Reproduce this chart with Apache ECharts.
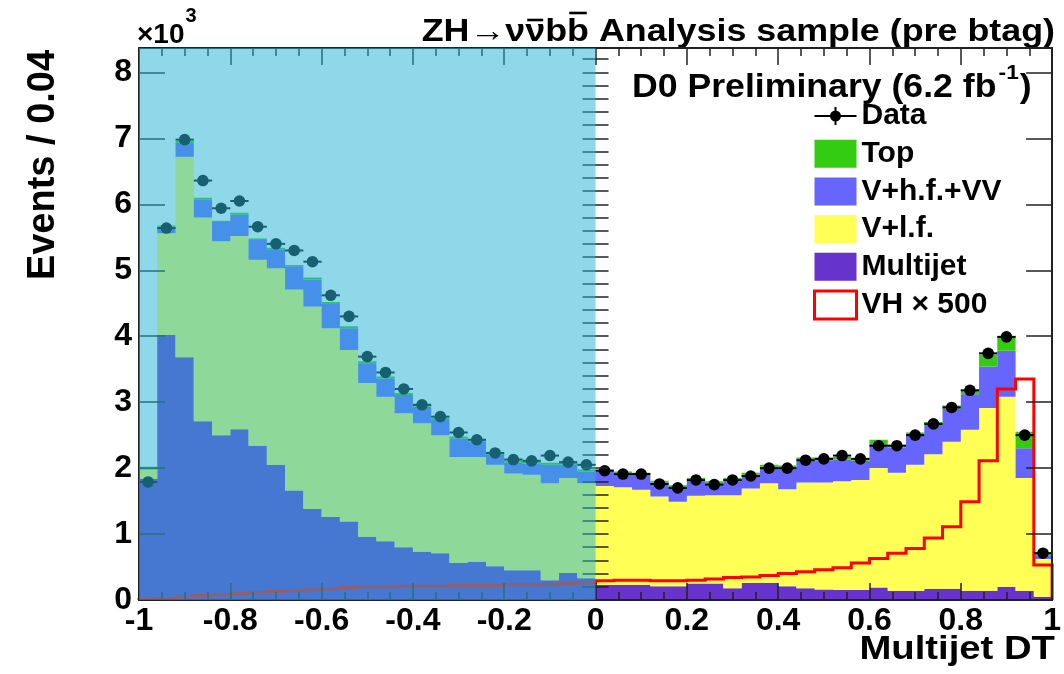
<!DOCTYPE html>
<html>
<head>
<meta charset="utf-8">
<script src="https://cdn.jsdelivr.net/npm/echarts@6/dist/echarts.min.js"></script>
<style>
html,body{margin:0;padding:0;background:#ffffff;}
#chart{width:1064px;height:674px;}
</style>
</head>
<body>
<div id="chart"></div>
<script>
// ---- binning ----
const binLow = -1;
const binWidth = 0.04;
const nBins = 50;
const yMax = 8.37;
const shadedRange = [-1, 0];

// ---- x tick labels and y tick labels ----
const xTickLabels = ['-1','-0.8','-0.6','-0.4','-0.2','0','0.2','0.4','0.6','0.8','1'];
const yTickLabels = ['0','1','2','3','4','5','6','7','8'];

// ---- values (x 10^3 events per bin) ----
const dataValues = [1.79,5.64,6.98,6.36,5.94,6.05,5.66,5.40,5.30,5.13,4.62,4.30,3.69,3.45,3.20,2.96,2.78,2.54,2.43,2.23,2.13,2.11,2.19,2.09,2.05,
                    1.96,1.91,1.91,1.76,1.70,1.82,1.75,1.82,1.88,2.00,2.00,2.12,2.14,2.19,2.14,2.34,2.34,2.50,2.67,2.92,3.18,3.74,3.99,2.50,0.71];
const multijet = [1.84,4.02,3.68,2.71,2.50,2.59,2.34,2.05,1.66,1.38,1.26,1.19,0.96,0.89,0.80,0.73,0.71,0.56,0.58,0.51,0.45,0.45,0.30,0.41,0.33,
                  0.23,0.23,0.23,0.21,0.21,0.25,0.25,0.18,0.26,0.26,0.21,0.18,0.16,0.15,0.15,0.19,0.14,0.14,0.17,0.17,0.14,0.14,0.20,0.14,0.05];
const vlf = [0.14,1.54,3.04,3.09,2.94,2.93,2.82,2.98,3.05,3.07,2.86,2.60,2.33,2.19,2.03,1.95,1.79,1.61,1.59,1.54,1.47,1.45,1.47,1.44,1.44,
             1.50,1.48,1.44,1.36,1.28,1.33,1.34,1.41,1.43,1.51,1.47,1.60,1.62,1.65,1.67,1.81,1.79,1.91,2.04,2.23,2.44,2.77,2.88,1.71,0.57];
const vhf = [0.03,0.10,0.21,0.27,0.29,0.32,0.30,0.29,0.35,0.41,0.37,0.33,0.30,0.28,0.28,0.25,0.23,0.28,0.23,0.15,0.16,0.17,0.28,0.20,0.18,
             0.22,0.21,0.23,0.21,0.22,0.24,0.18,0.23,0.21,0.25,0.32,0.34,0.34,0.33,0.29,0.36,0.38,0.45,0.45,0.50,0.54,0.63,0.70,0.45,0.06];
const topQuark = [0.01,0.02,0.03,0.03,0.02,0.03,0.02,0.02,0.02,0.03,0.03,0.03,0.03,0.03,0.03,0.03,0.03,0.03,0.03,0.03,0.03,0.03,0.03,0.03,0.03,
                  0.03,0.03,0.03,0.03,0.03,0.03,0.03,0.03,0.03,0.03,0.04,0.04,0.04,0.04,0.04,0.07,0.04,0.04,0.04,0.05,0.06,0.18,0.22,0.25,0.04];
const vh500 = [0.01,0.02,0.05,0.07,0.08,0.10,0.11,0.13,0.14,0.15,0.17,0.19,0.20,0.20,0.21,0.21,0.21,0.22,0.22,0.22,0.23,0.23,0.24,0.25,0.26,
               0.29,0.30,0.30,0.29,0.29,0.30,0.32,0.34,0.35,0.37,0.40,0.43,0.46,0.49,0.56,0.63,0.71,0.78,0.94,1.11,1.49,2.11,3.20,3.35,0.53];

// ---- styles ----
const FONT = '"Liberation Sans", Arial, Helvetica, sans-serif';
const colTop = '#33cc11', colVhf = '#6666ff', colVlf = '#ffff55', colMj = '#6633cc', colVH = '#ff0000';
const overlayColor = 'rgba(42,181,214,0.53)';
const axisCol = '#222';

// ---- derived ----
const edges = Array.from({length: nBins + 1}, (_, i) => binLow + i * binWidth);
const centers = Array.from({length: nBins}, (_, i) => binLow + (i + 0.5) * binWidth);
const stackList = [multijet, vlf, vhf, topQuark];
const bands = [];
let base = new Array(nBins).fill(0);
stackList.forEach(arr => {
  const lo = base.slice();
  const hi = lo.map((b, i) => b + arr[i]);
  bands.push([lo, hi]);
  base = hi;
});

function bandSeries(name, color, idx, vals) {
  const lo = bands[idx][0], hi = bands[idx][1];
  return {
    type: 'custom', name: name, z: 2, silent: true, animation: false,
    itemStyle: {color: color},
    data: vals.map((v, i) => [centers[i], v]),
    renderItem: function (params, api) {
      if (params.dataIndex !== 0) return null;
      const pts = [];
      for (let i = 0; i < nBins; i++) {
        pts.push(api.coord([edges[i], hi[i]]));
        pts.push(api.coord([edges[i + 1], hi[i]]));
      }
      for (let i = nBins - 1; i >= 0; i--) {
        pts.push(api.coord([edges[i + 1], lo[i]]));
        pts.push(api.coord([edges[i], lo[i]]));
      }
      return {type: 'polygon', shape: {points: pts}, style: {fill: color}};
    }
  };
}

// text measuring for the annotation layout
const mctx = document.createElement('canvas').getContext('2d');
function tw(t, size) { mctx.font = 'bold ' + size + 'px ' + FONT; return mctx.measureText(t).width; }
function txt(t, x, y, size, align) {
  return {type: 'text', x: x, y: y, silent: true,
    style: {text: t, font: 'bold ' + size + 'px ' + FONT, fill: '#000',
      align: align || 'left', textAlign: align || 'left', verticalAlign: 'middle', textVerticalAlign: 'middle'}};
}

// title group: ZH->nu nubar b bbar Analysis sample (pre btag)
const TS = 32, TSX = 1.12;
const titlePieces = [
  {t: 'ZH\u2192\u03BD', bar: 0},
  {t: '\u03BD', bar: 1},
  {t: 'b', bar: 0},
  {t: 'b', bar: 2},
  {t: ' Analysis sample (pre btag)', bar: 0}
];
const titleChildren = [];
let cx = 0;
titlePieces.forEach(p => {
  const w = tw(p.t, TS);
  titleChildren.push(txt(p.t, cx, 0, TS, 'left'));
  if (p.bar) {
    const yb = p.bar === 1 ? -12.5 : -19.5;
    titleChildren.push({type: 'rect', silent: true, shape: {x: cx + w * 0.1, y: yb - 1.3, width: w * 0.8, height: 2.6}, style: {fill: '#000'}});
  }
  cx += w;
});
const titleW = cx;

// x10^3
const expChildren = [txt('\u00D710', 0, 0, 28, 'left'), txt('3', tw('\u00D710', 28) + 1, -19, 20, 'left')];

// D0 Preliminary
const d0a = 'D0 Preliminary (6.2 fb';
const d0w = tw(d0a, 33);
const supW = tw('-1', 21);
const d0Children = [
  txt(d0a, 0, 0, 33, 'left'),
  txt('-1', d0w + 2, -14.5, 21, 'left'),
  txt(')', d0w + supW + 3, 0, 33, 'left')
];

const chart = echarts.init(document.getElementById('chart'), null, {renderer: 'canvas'});

const xAxisBase = {
  type: 'value', min: binLow, max: 1, interval: 0.2, z: 5,
  axisLine: {show: true, onZero: false, lineStyle: {color: axisCol, width: 2}},
  axisTick: {show: true, inside: true, length: 17, lineStyle: {color: axisCol, width: 1.5}},
  minorTick: {show: true, splitNumber: 4, length: 8, lineStyle: {color: axisCol, width: 1.5}},
  splitLine: {show: false}
};
const yAxisMajor = {
  type: 'value', min: 0, max: yMax, interval: 1, z: 5,
  axisLine: {show: true, onZero: false, lineStyle: {color: axisCol, width: 2}},
  axisTick: {show: true, inside: true, length: 26, lineStyle: {color: axisCol, width: 1.5}},
  splitLine: {show: false}
};
const yAxisMinor = {
  type: 'value', min: 0, max: yMax, interval: 0.2, z: 5,
  axisLine: {show: false},
  axisTick: {show: true, inside: true, length: 13, lineStyle: {color: axisCol, width: 1.5}},
  axisLabel: {show: false},
  splitLine: {show: false}
};

const option = {
  animation: false,
  backgroundColor: '#ffffff',
  grid: {left: 139, right: 6, top: 48, bottom: 74, containLabel: false},
  xAxis: [
    Object.assign({}, xAxisBase, {
      position: 'bottom',
      axisLabel: {
        show: true, margin: 5, fontSize: 32, fontWeight: 'bold', fontFamily: FONT, color: '#000',
        showMinLabel: true, showMaxLabel: true,
        formatter: function (v) {
          const k = Math.round((v - binLow) / 0.2);
          return xTickLabels[k] !== undefined ? xTickLabels[k] : '';
        }
      }
    }),
    Object.assign({}, xAxisBase, {position: 'top', axisLabel: {show: false}})
  ],
  yAxis: [
    Object.assign({}, yAxisMajor, {
      position: 'left',
      axisLabel: {
        show: true, margin: 7, fontSize: 32, fontWeight: 'bold', fontFamily: FONT, color: '#000',
        formatter: function (v) {
          const k = Math.round(v);
          return Math.abs(v - k) < 1e-6 && yTickLabels[k] !== undefined ? yTickLabels[k] : '';
        }
      }
    }),
    Object.assign({}, yAxisMinor, {position: 'left'}),
    Object.assign({}, yAxisMajor, {position: 'right', axisLabel: {show: false}}),
    Object.assign({}, yAxisMinor, {position: 'right'})
  ],
  legend: {
    orient: 'vertical', left: 813, top: 101, padding: 0,
    itemWidth: 42, itemHeight: 28, itemGap: 7.7,
    selectedMode: false,
    textStyle: {fontSize: 30, fontWeight: 'bold', fontFamily: FONT, color: '#000'},
    data: [
      {name: 'Data', icon: 'path://M0,13 L42,13 L42,15 L0,15 Z M20,5 L22,5 L22,23 L20,23 Z M26.5,14 A5.5,5.5 0 1 1 15.5,14 A5.5,5.5 0 1 1 26.5,14 Z', itemStyle: {color: '#000'}},
      {name: 'Top', icon: 'rect', itemStyle: {color: colTop}},
      {name: 'V+h.f.+VV', icon: 'rect', itemStyle: {color: colVhf}},
      {name: 'V+l.f.', icon: 'rect', itemStyle: {color: colVlf}},
      {name: 'Multijet', icon: 'rect', itemStyle: {color: colMj}},
      {name: 'VH \u00D7 500', icon: 'rect', itemStyle: {color: '#ffffff', borderColor: colVH, borderWidth: 3}}
    ]
  },
  graphic: [
    {type: 'group', x: 1055 - titleW * TSX, y: 32.5, scaleX: TSX, children: titleChildren},
    {type: 'group', x: 137, y: 35, children: expChildren},
    {type: 'group', x: 632, y: 87.5, scaleX: 1.08, children: d0Children},
    {type: 'group', x: 1055, y: 650, scaleX: 1.16, children: [txt('Multijet DT', 0, 0, 33, 'right')]},
    {type: 'text', x: 44, y: 165, rotation: Math.PI / 2, silent: true,
      style: {text: 'Events / 0.04', font: 'bold 38px ' + FONT, fill: '#000',
        align: 'center', textAlign: 'center', verticalAlign: 'middle', textVerticalAlign: 'middle'}}
  ],
  series: [
    bandSeries('Multijet', colMj, 0, multijet),
    bandSeries('V+l.f.', colVlf, 1, vlf),
    bandSeries('V+h.f.+VV', colVhf, 2, vhf),
    bandSeries('Top', colTop, 3, topQuark),
    {
      type: 'custom', name: 'VH \u00D7 500', z: 3, silent: true,
      itemStyle: {color: colVH},
      data: vh500.map((v, i) => [centers[i], v]),
      renderItem: function (params, api) {
        if (params.dataIndex !== 0) return null;
        const pts = [api.coord([edges[0], 0])];
        for (let i = 0; i < nBins; i++) {
          pts.push(api.coord([edges[i], vh500[i]]));
          pts.push(api.coord([edges[i + 1], vh500[i]]));
        }
        pts.push(api.coord([edges[nBins], 0]));
        return {type: 'polyline', shape: {points: pts}, style: {stroke: colVH, lineWidth: 3, fill: 'none'}};
      }
    },
    {
      type: 'custom', name: 'Data', z: 4, silent: true,
      itemStyle: {color: '#000'},
      data: dataValues.map((v, i) => [centers[i], v]),
      renderItem: function (params, api) {
        const x = api.value(0), y = api.value(1);
        const p = api.coord([x, y]);
        const a = api.coord([x - binWidth / 2, y]);
        const b = api.coord([x + binWidth / 2, y]);
        return {type: 'group', children: [
          {type: 'line', shape: {x1: a[0], y1: a[1], x2: b[0], y2: b[1]}, style: {stroke: '#000', lineWidth: 2}},
          {type: 'circle', shape: {cx: p[0], cy: p[1], r: 5.8}, style: {fill: '#000'}}
        ]};
      }
    },
    {
      type: 'custom', name: 'shade', z: 10, silent: true,
      data: [[shadedRange[0], 0]],
      renderItem: function (params, api) {
        const p0 = api.coord([shadedRange[0], yMax]);
        const p1 = api.coord([shadedRange[1], 0]);
        return {type: 'rect', shape: {x: p0[0], y: p0[1], width: p1[0] - p0[0], height: p1[1] - p0[1]}, style: {fill: overlayColor}};
      }
    }
  ]
};
chart.setOption(option);
</script>
</body>
</html>
